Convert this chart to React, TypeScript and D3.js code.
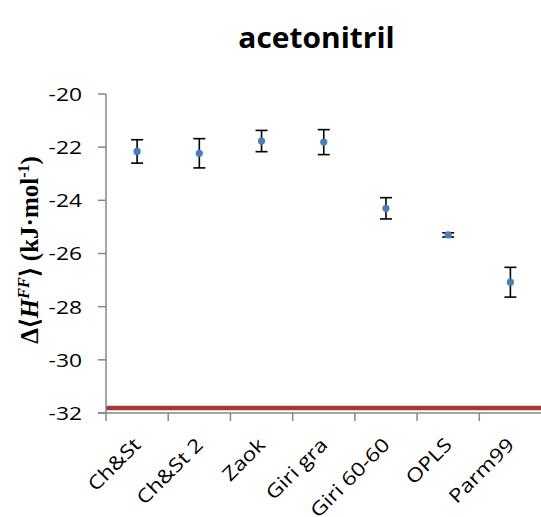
import React from "react";
import * as d3 from "d3";

// Force-field models and their mean enthalpy differences (kJ/mol) with error bars
const categories = ["Ch&St", "Ch&St 2", "Zaok", "Giri gra", "Giri 60-60", "OPLS", "Parm99"];
const values = [-22.16, -22.23, -21.77, -21.81, -24.3, -25.3, -27.08];
const errors = [0.44, 0.55, 0.4, 0.47, 0.4, 0.08, 0.56];
const referenceValue = -31.81;
const yTicks = [-20, -22, -24, -26, -28, -30, -32];

const W = 541;
const H = 517;
const left = 106;
const top = 94;
const bottom = 413;
const right = 541.5;

export default function App() {
  const x = d3.scaleBand<string>().domain(categories).range([left, right]);
  const y = d3.scaleLinear().domain([-32, -20]).range([bottom, top]);
  const axisColor = "#868686";
  const labelFont = "Open Sans, sans-serif";

  return (
    <svg
      width={W}
      height={H}
      style={{ position: "absolute", left: 0, top: 0, background: "#fff" }}
    >
      <text
        transform="translate(316.5, 48) scale(1.07, 1)"
        textAnchor="middle"
        fontFamily={labelFont}
        fontWeight="bold"
        fontSize={28}
        fill="#000"
      >
        acetonitril
      </text>

      {/* reference line */}
      <line
        x1={left}
        x2={W}
        y1={y(referenceValue)}
        y2={y(referenceValue)}
        stroke="#a33a3a"
        strokeWidth={4.5}
      />

      {/* y axis */}
      <line x1={left} x2={left} y1={top} y2={bottom} stroke={axisColor} strokeWidth={1.5} />
      {yTicks.map((t) => (
        <g key={t}>
          <line x1={left - 8} x2={left} y1={y(t)} y2={y(t)} stroke={axisColor} strokeWidth={1.5} />
          <text
            transform={`translate(82, ${y(t)}) scale(1.2, 1)`}
            dy="0.36em"
            textAnchor="end"
            fontFamily={labelFont}
            fontSize={19}
            fill="#000"
          >
            {t}
          </text>
        </g>
      ))}

      {/* x axis */}
      <line x1={left - 8} x2={W} y1={bottom} y2={bottom} stroke={axisColor} strokeWidth={1.5} />
      {categories.map((c) => (
        <line
          key={"t" + c}
          x1={x(c)!}
          x2={x(c)!}
          y1={bottom}
          y2={bottom + 8}
          stroke={axisColor}
          strokeWidth={1.5}
        />
      ))}
      {categories.map((c) => {
        const cx = x(c)! + x.bandwidth() / 2 + 5;
        const cy = 446;
        return (
          <text
            key={"l" + c}
            transform={`translate(${cx}, ${cy}) rotate(-45) scale(1.2, 1)`}
            textAnchor="end"
            fontFamily={labelFont}
            fontSize={19}
            fill="#000"
          >
            {c}
          </text>
        );
      })}

      {/* error bars and points */}
      {categories.map((c, i) => {
        const cx = x(c)! + x.bandwidth() / 2;
        const y1 = y(values[i] + errors[i]);
        const y2 = y(values[i] - errors[i]);
        return (
          <g key={"p" + c}>
            <line x1={cx} x2={cx} y1={y1} y2={y2} stroke="#000" strokeWidth={1.6} />
            <line x1={cx - 6} x2={cx + 6} y1={y1} y2={y1} stroke="#000" strokeWidth={1.6} />
            <line x1={cx - 6} x2={cx + 6} y1={y2} y2={y2} stroke="#000" strokeWidth={1.6} />
            <circle cx={cx} cy={y(values[i])} r={3.6} fill="#4a7ebb" />
          </g>
        );
      })}

      {/* y axis title */}
      <text
        transform={`translate(38, 250) rotate(-90)`}
        textAnchor="middle"
        fontFamily="Liberation Serif, serif"
        fontWeight="bold"
        fontSize={25}
        fill="#000"
      >
        Δ⟨<tspan fontStyle="italic">H</tspan>
        <tspan fontStyle="italic" fontSize={16} dy={-9}>FF</tspan>
        <tspan dy={9}>⟩ (kJ·mol</tspan>
        <tspan fontSize={16} dy={-9}>-1</tspan>
        <tspan dy={9}>)</tspan>
      </text>
    </svg>
  );
}
